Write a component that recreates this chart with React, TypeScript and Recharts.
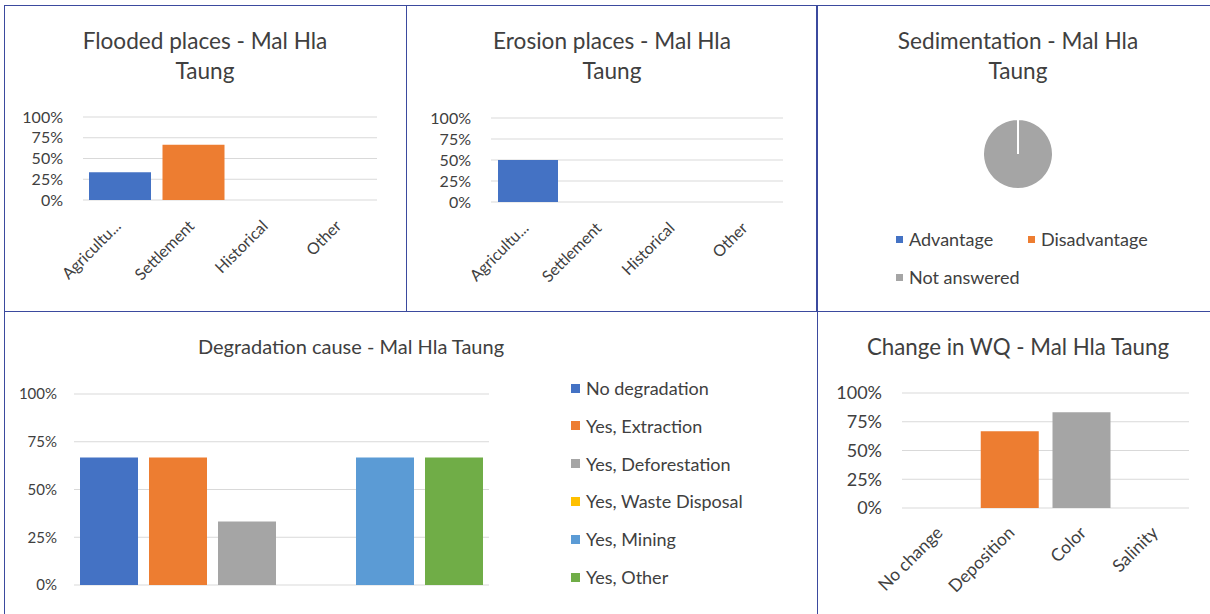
import React from 'react';
import { BarChart, Bar, Cell, XAxis, YAxis, CartesianGrid, PieChart, Pie } from 'recharts';

// Mal Hla Taung survey dashboard (five Excel-style panels)

const FONT = 'Lato, "Noto Sans", sans-serif';
const TEXT = '#404040';
const GRID = '#d9d9d9';
const BORDER = '#3b4a9e';
const PALETTE = ['#4472C4', '#ED7D31', '#A5A5A5', '#FFC000', '#5B9BD5', '#70AD47'];

const percentTicks = [0, 0.25, 0.5, 0.75, 1];

const placeCategories = ['Agricultu...', 'Settlement', 'Historical', 'Other'];
const floodedValues = [0.333, 0.667, 0, 0];
const erosionValues = [0.5, 0, 0, 0];

const sedimentationLabels = ['Advantage', 'Disadvantage', 'Not answered'];
const sedimentationValues = [0, 0, 1];

const degradationSeries = [
  'No degradation',
  'Yes, Extraction',
  'Yes, Deforestation',
  'Yes, Waste Disposal',
  'Yes, Mining',
  'Yes, Other',
];
const degradationValues = [0.667, 0.667, 0.333, 0, 0.667, 0.667];

const wqCategories = ['No change', 'Deposition', 'Color', 'Salinity'];
const wqValues = [0, 0.667, 0.833, 0];

const pct = (v: number) => `${Math.round(v * 100)}%`;

function AngledTick({ x, y, payload, fontSize, dx }: any) {
  return (
    <g transform={`translate(${x + dx},${y})`}>
      <text transform="rotate(-45)" textAnchor="end" dy="0.72em" fontSize={fontSize} fill={TEXT} fontFamily={FONT}>
        {payload.value}
      </text>
    </g>
  );
}

const Y_W = 60;
const X_H = 70;

interface CategoryBarsProps {
  left: number;
  top: number;
  width: number;
  height: number;
  plot: { x0: number; y0: number; x1: number; y1: number };
  categories: string[];
  values: number[];
  barSize: number;
  yFont: number;
  xFont: number;
  yGap: number;
  xDrop: number;
  xShift: number;
}

function CategoryBars(p: CategoryBarsProps) {
  const data = p.categories.map((name, i) => ({ name, value: p.values[i] }));
  const margin = {
    top: p.plot.y0 - p.top,
    right: p.left + p.width - p.plot.x1,
    left: p.plot.x0 - p.left - Y_W,
    bottom: p.top + p.height - p.plot.y1 - X_H,
  };
  return (
    <div style={{ position: 'absolute', left: p.left, top: p.top }}>
      <BarChart width={p.width} height={p.height} data={data} margin={margin} style={{ overflow: 'visible' }}>
        <CartesianGrid vertical={false} stroke={GRID} />
        <XAxis
          dataKey="name"
          axisLine={false}
          tickLine={false}
          tickSize={0}
          tickMargin={p.xDrop}
          interval={0}
          height={X_H}
          tick={(props: any) => <AngledTick {...props} fontSize={p.xFont} dx={p.xShift} />}
        />
        <YAxis
          type="number"
          domain={[0, 1]}
          ticks={percentTicks}
          interval={0}
          width={Y_W}
          axisLine={false}
          tickLine={false}
          tickSize={0}
          tickMargin={p.yGap}
          tickFormatter={pct}
          tick={{ fontSize: p.yFont, fill: TEXT, fontFamily: FONT }}
        />
        <Bar dataKey="value" barSize={p.barSize} isAnimationActive={false}>
          {data.map((d, i) => (
            <Cell key={d.name} fill={PALETTE[i]} />
          ))}
        </Bar>
      </BarChart>
    </div>
  );
}

function DegradationChart() {
  const row: Record<string, number | string> = { name: '' };
  degradationSeries.forEach((s, i) => (row[s] = degradationValues[i]));
  const left = 5;
  const top = 370;
  const width = 560;
  const height = 240;
  const plot = { x0: 74, y0: 394, x1: 489, y1: 585 };
  return (
    <div style={{ position: 'absolute', left, top }}>
      <BarChart
        width={width}
        height={height}
        data={[row]}
        barGap={11}
        margin={{
          top: plot.y0 - top,
          right: left + width - plot.x1,
          left: plot.x0 - left - Y_W,
          bottom: top + height - plot.y1 - 10,
        }}
      >
        <CartesianGrid vertical={false} stroke={GRID} />
        <XAxis dataKey="name" axisLine={false} tickLine={false} tick={false} height={10} />
        <YAxis
          type="number"
          domain={[0, 1]}
          ticks={percentTicks}
          interval={0}
          width={Y_W}
          axisLine={false}
          tickLine={false}
          tickSize={0}
          tickMargin={17}
          tickFormatter={pct}
          tick={{ fontSize: 15, fill: TEXT, fontFamily: FONT }}
        />
        {degradationSeries.map((s, i) => (
          <Bar key={s} dataKey={s} fill={PALETTE[i]} barSize={58} isAnimationActive={false} />
        ))}
      </BarChart>
    </div>
  );
}

function SedimentationPie() {
  const data = sedimentationLabels.map((name, i) => ({ name, value: sedimentationValues[i] }));
  return (
    <div style={{ position: 'absolute', left: 818, top: 6 }}>
      <PieChart width={390} height={200} margin={{ top: 0, right: 0, bottom: 0, left: 0 }}>
        <Pie
          data={data}
          dataKey="value"
          nameKey="name"
          cx={200}
          cy={148}
          outerRadius={35}
          startAngle={90}
          endAngle={-270}
          stroke="#ffffff"
          strokeWidth={2}
          isAnimationActive={false}
        >
          {data.map((d, i) => (
            <Cell key={d.name} fill={PALETTE[i]} />
          ))}
        </Pie>
      </PieChart>
    </div>
  );
}

function LegendItem({ x, y, color, label, size, box }: { x: number; y: number; color: string; label: string; size: number; box: number }) {
  return (
    <div
      style={{
        position: 'absolute',
        left: x,
        top: y,
        display: 'flex',
        alignItems: 'center',
        fontFamily: FONT,
        fontSize: size,
        color: TEXT,
        whiteSpace: 'nowrap',
        lineHeight: '20px',
      }}
    >
      <span style={{ width: box, height: box, background: color, marginRight: 6, display: 'inline-block' }} />
      {label}
    </div>
  );
}

const panelBox = (left: number, top: number, width: number, height: number): React.CSSProperties => ({
  position: 'absolute',
  left,
  top,
  width,
  height,
  border: `1px solid ${BORDER}`,
  boxSizing: 'border-box',
});

export default function App() {
  const sedLegendPos = [
    { x: 896, y: 229 },
    { x: 1028, y: 229 },
    { x: 896, y: 267 },
  ];
  return (
    <div
      style={{
        position: 'absolute',
        left: 0,
        top: 0,
        width: 1210,
        height: 614,
        background: '#ffffff',
        overflow: 'hidden',
      }}
    >
      <div style={panelBox(4, 5, 403, 307)} />
      <div style={panelBox(406, 5, 411, 307)} />
      <div style={panelBox(817, 5, 400, 307)} />
      <div style={panelBox(4, 311, 814, 320)} />
      <div style={panelBox(817, 311, 400, 320)} />

      <CategoryBars
        left={5}
        top={90}
        width={400}
        height={220}
        plot={{ x0: 83, y0: 117, x1: 377, y1: 200 }}
        categories={placeCategories}
        values={floodedValues}
        barSize={62}
        yFont={16}
        xFont={16}
        yGap={20}
        xDrop={19}
        xShift={-6}
      />
      <CategoryBars
        left={408}
        top={90}
        width={405}
        height={220}
        plot={{ x0: 491, y0: 118, x1: 783, y1: 202 }}
        categories={placeCategories}
        values={erosionValues}
        barSize={60}
        yFont={16}
        xFont={16}
        yGap={20}
        xDrop={19}
        xShift={-6}
      />
      <SedimentationPie />
      <DegradationChart />
      <CategoryBars
        left={818}
        top={370}
        width={390}
        height={240}
        plot={{ x0: 902, y0: 393, x1: 1189, y1: 508 }}
        categories={wqCategories}
        values={wqValues}
        barSize={58}
        yFont={18}
        xFont={17.5}
        yGap={20}
        xDrop={17}
        xShift={-3}
      />

      {sedimentationLabels.map((label, i) => (
        <LegendItem key={label} x={sedLegendPos[i].x} y={sedLegendPos[i].y} color={PALETTE[i]} label={label} size={18} box={7} />
      ))}
      {degradationSeries.map((label, i) => (
        <LegendItem key={label} x={571} y={378 + i * 37.8} color={PALETTE[i]} label={label} size={18} box={9} />
      ))}

      <svg width={1210} height={614} style={{ position: 'absolute', left: 0, top: 0, pointerEvents: 'none' }}>
        <g fontFamily={FONT} fill={TEXT} textAnchor="middle" fontSize={22.6}>
          <text x={205} y={49}>Flooded places - Mal Hla</text>
          <text x={205} y={79}>Taung</text>
          <text x={612} y={49}>Erosion places - Mal Hla</text>
          <text x={612} y={79}>Taung</text>
          <text x={1018} y={49}>Sedimentation - Mal Hla</text>
          <text x={1018} y={79}>Taung</text>
          <text x={351} y={354} fontSize={20}>Degradation cause - Mal Hla Taung</text>
          <text x={1018} y={355} fontSize={22.3}>Change in WQ - Mal Hla Taung</text>
        </g>
      </svg>
    </div>
  );
}
